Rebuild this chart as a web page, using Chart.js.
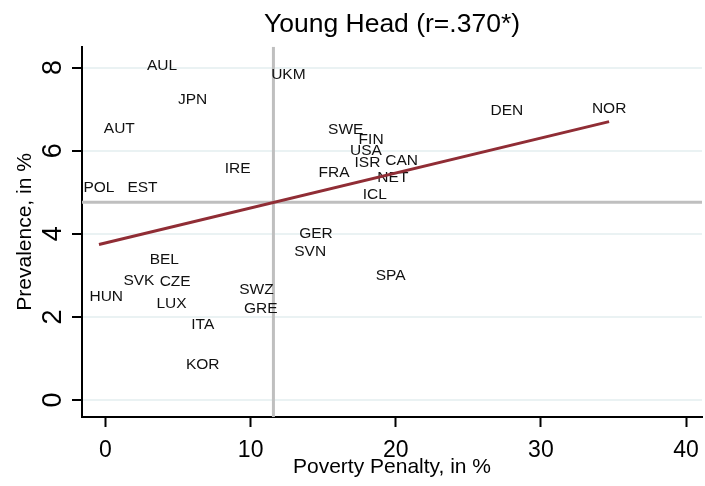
<!DOCTYPE html>
<html>
<head>
<meta charset="utf-8">
<script src="https://cdn.jsdelivr.net/npm/chart.js@4/dist/chart.umd.min.js"></script>
<style>
  html, body { margin: 0; padding: 0; background: #fff; }
  canvas { display: block; }
</style>
</head>
<body>
<canvas id="young-head" width="705" height="486"></canvas>
<script>
// country codes, poverty penalty (x, %) and prevalence (y, %)
const countries = ['AUL', 'UKM', 'JPN', 'AUT', 'IRE', 'POL', 'EST', 'SWE', 'FIN', 'USA',
  'ISR', 'CAN', 'FRA', 'NET', 'ICL', 'DEN', 'NOR', 'BEL', 'SVK', 'CZE',
  'HUN', 'LUX', 'ITA', 'KOR', 'SWZ', 'GRE', 'GER', 'SVN', 'SPA'];
const penalty = [3.9, 12.6, 6.0, 0.95, 9.1, -0.45, 2.55, 16.55, 18.3, 17.95,
  18.05, 20.4, 15.75, 19.8, 18.55, 27.65, 34.7, 4.05, 2.3, 4.8,
  0.05, 4.55, 6.7, 6.7, 10.4, 10.7, 14.5, 14.1, 19.65];
const prevalence = [8.04, 7.82, 7.22, 6.52, 5.56, 5.12, 5.12, 6.5, 6.27, 6.0,
  5.72, 5.76, 5.46, 5.34, 4.94, 6.96, 7.0, 3.38, 2.86, 2.85,
  2.48, 2.32, 1.82, 0.86, 2.66, 2.2, 4.0, 3.58, 2.98];

const xTicks = [0, 10, 20, 30, 40];
const yTicks = [0, 2, 4, 6, 8];

// reference lines and the linear fit
const meanPenalty = 11.57;
const meanPrevalence = 4.76;
const fitIntercept = 3.78;
const fitSlope = 0.0841;

const xMin = -1.62, xMax = 41.1;
const yMin = -0.41, yMax = 8.5;

const FONT = "'Liberation Sans', Arial, sans-serif";
Chart.defaults.font.family = FONT;
Chart.defaults.color = '#000';

const points = countries.map((c, i) => ({ x: penalty[i], y: prevalence[i], label: c }));
const loX = Math.min(...penalty), hiX = Math.max(...penalty);
const fitLine = [loX, hiX].map(x => ({ x: x, y: fitIntercept + fitSlope * x }));

// draw the country codes centred on their points
const countryLabels = {
  id: 'countryLabels',
  afterDatasetDraw(chart, args) {
    if (args.index !== 1) return;
    const ctx = chart.ctx, xs = chart.scales.x, ys = chart.scales.y;
    ctx.save();
    ctx.font = '15.5px ' + FONT;
    ctx.fillStyle = '#111';
    ctx.textAlign = 'center';
    ctx.textBaseline = 'middle';
    points.forEach(p => {
      ctx.fillText(p.label, xs.getPixelForValue(p.x), ys.getPixelForValue(p.y));
    });
    ctx.restore();
  }
};

new Chart(document.getElementById('young-head'), {
  type: 'scatter',
  data: {
    datasets: [
      {
        type: 'line', data: fitLine, borderColor: '#902D35', borderWidth: 3,
        pointRadius: 0, fill: false
      },
      { data: points, pointRadius: 0, showLine: false },
      {
        type: 'line', data: [{ x: xMin, y: meanPrevalence }, { x: xMax, y: meanPrevalence }],
        borderColor: '#BFBFBF', borderWidth: 3, pointRadius: 0
      },
      {
        type: 'line', data: [{ x: meanPenalty, y: yMin }, { x: meanPenalty, y: yMax }],
        borderColor: '#BFBFBF', borderWidth: 3, pointRadius: 0
      }
    ]
  },
  options: {
    responsive: false,
    animation: false,
    devicePixelRatio: 1,
    layout: { padding: { right: 3 } },
    plugins: {
      legend: { display: false },
      tooltip: { enabled: false },
      title: {
        display: true,
        text: 'Young Head (r=.370*)',
        fullSize: false,
        color: '#000',
        font: { size: 26.5, weight: 'normal' },
        padding: { top: 9, bottom: 6 }
      }
    },
    scales: {
      x: {
        type: 'linear', min: xMin, max: xMax,
        afterBuildTicks: s => { s.ticks = xTicks.map(v => ({ value: v })); },
        afterFit: s => { s.height = 69; s.paddingLeft = 0; s.paddingRight = 0; },
        grid: { display: true, drawOnChartArea: false, tickLength: 10, tickWidth: 2, tickColor: '#000' },
        border: { color: '#000', width: 2 },
        ticks: { font: { size: 23 }, padding: 10, maxRotation: 0 },
        title: { display: true, text: 'Poverty Penalty, in %', font: { size: 21 }, padding: { top: 0, bottom: 6 } }
      },
      y: {
        type: 'linear', min: yMin, max: yMax,
        afterBuildTicks: s => { s.ticks = yTicks.map(v => ({ value: v })); },
        afterFit: s => { s.width = 82; s.paddingTop = 0; s.paddingBottom = 0; },
        grid: { color: '#EAF2F3', lineWidth: 2, tickLength: 10, tickWidth: 2, tickColor: '#000' },
        border: { color: '#000', width: 2 },
        ticks: { font: { size: 27 }, padding: 11, minRotation: 90, maxRotation: 90, crossAlign: 'center' },
        title: { display: true, text: 'Prevalence, in %', font: { size: 21 }, padding: { top: 13, bottom: 0 } }
      }
    }
  },
  plugins: [countryLabels]
});
</script>
</body>
</html>
